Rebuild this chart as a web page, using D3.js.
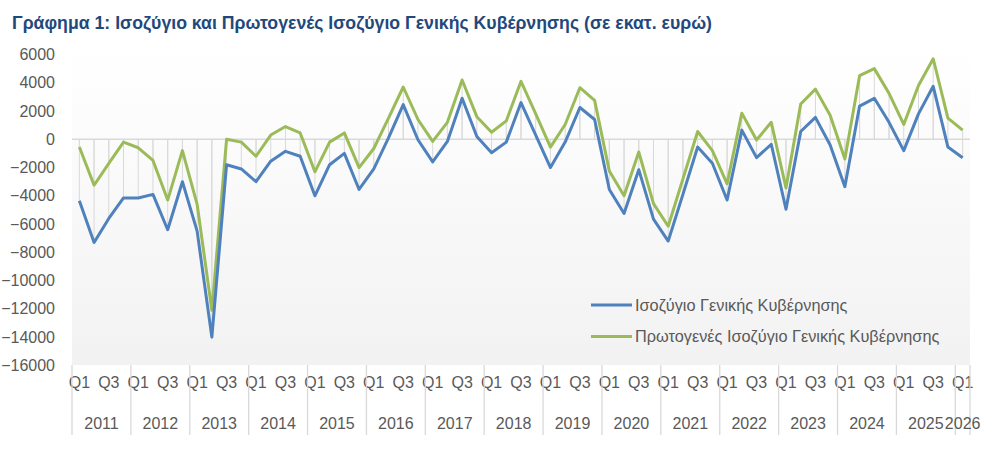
<!DOCTYPE html>
<html>
<head>
<meta charset="utf-8">
<script src="https://cdn.jsdelivr.net/npm/d3@7"></script>
<style>
  html, body { margin: 0; padding: 0; background: #ffffff; }
  svg { display: block; }
  text { font-family: "Liberation Sans", Arial, sans-serif; }
</style>
</head>
<body>
<svg id="chart" width="1002" height="457"></svg>
<script>
// ---------------- DATA ----------------
const title = "Γράφημα 1: Ισοζύγιο και Πρωτογενές Ισοζύγιο Γενικής Κυβέρνησης (σε εκατ. ευρώ)";
const years = [2011, 2012, 2013, 2014, 2015, 2016, 2017, 2018, 2019, 2020, 2021, 2022, 2023, 2024, 2025, 2026];
const quarters = ["Q1", "Q2", "Q3", "Q4"];
const shownQuarters = ["Q1", "Q3"];
const seriesNames = ["Ισοζύγιο Γενικής Κυβέρνησης", "Πρωτογενές Ισοζύγιο Γενικής Κυβέρνησης"];
const yTicks = [6000, 4000, 2000, 0, -2000, -4000, -6000, -8000, -10000, -12000, -14000, -16000];

// General government balance (million euro), quarterly 2011Q1 – 2026Q1
const balance = [
  -4350, -7300, -5600, -4150,
  -4150, -3900, -6400, -3000,
  -6500, -14000, -1800, -2100,
  -3000, -1550, -850, -1200,
  -4000, -1800, -1000, -3550,
  -2100, 100, 2450, -30,
  -1600, -150, 2900, 200,
  -950, -200, 2600, 300,
  -2000, -200, 2250, 1400,
  -3550, -5250, -2150, -5650,
  -7200, -3900, -550, -1700,
  -4300, 650, -1300, -350,
  -4950, 550, 1550, -400,
  -3350, 2350, 2900, 1200,
  -800, 1800, 3750, -550,
  -1300
];
// Primary balance (million euro)
const primary = [
  -550, -3250, -1700, -200,
  -600, -1500, -4300, -800,
  -4600, -12100, 0, -200,
  -1200, 300, 900, 450,
  -2300, -200, 450, -2000,
  -650, 1500, 3700, 1400,
  -150, 1200, 4200, 1600,
  500, 1300, 4100, 1800,
  -550, 1050, 3650, 2750,
  -2250, -4000, -900, -4550,
  -6150, -2800, 550, -800,
  -3150, 1850, -50, 1200,
  -3450, 2500, 3550, 1700,
  -1400, 4500, 5000, 3250,
  1050, 3800, 5700, 1500,
  650
];

// ---------------- BUILD ----------------
const categories = [];
years.forEach(y => quarters.forEach(q => categories.push({ year: y, q: q, key: y + "-" + q })));
const cats = categories.slice(0, balance.length);

const svg = d3.select("#chart");
const plot = { left: 72, right: 970, top: 50, bottom: 365 };

const x = d3.scaleBand().domain(cats.map(d => d.key)).range([plot.left, plot.right]).paddingInner(0).paddingOuter(0);
const y = d3.scaleLinear().domain([-16000, 6000]).range([365.4, 54.5]);

const colors = { blue: "#4f81bd", green: "#9bbb59", grid: "#d9d9d9", text: "#595959", title: "#1f497d" };

// gradient background
const defs = svg.append("defs");
const grad = defs.append("linearGradient").attr("id", "bg").attr("x1", 0).attr("y1", 0).attr("x2", 0).attr("y2", 1);
grad.append("stop").attr("offset", "0%").attr("stop-color", "#ffffff");
grad.append("stop").attr("offset", "100%").attr("stop-color", "#f2f2f2");

svg.append("rect")
  .attr("x", plot.left).attr("y", plot.top)
  .attr("width", plot.right - plot.left).attr("height", plot.bottom - plot.top)
  .attr("fill", "url(#bg)");

// title
svg.append("text")
  .attr("x", 12).attr("y", 29)
  .attr("font-size", 18).attr("font-weight", "bold")
  .attr("fill", colors.title)
  .attr("textLength", 700).attr("lengthAdjust", "spacingAndGlyphs")
  .text(title);

// y axis labels (no line)
const yAxis = d3.axisLeft(y).tickValues(yTicks).tickSize(0).tickPadding(0).tickFormat(d3.format("d"));
const gy = svg.append("g").attr("transform", `translate(${55},0)`).call(yAxis);
gy.select(".domain").remove();
gy.selectAll("text").attr("font-size", 16).attr("fill", colors.text)
  .attr("font-family", "Liberation Sans, Arial, sans-serif");

// drop lines (point to zero) for both series
const cx = d => x(d) + x.bandwidth() / 2;
[balance, primary].forEach(series => {
  svg.append("g").selectAll("line").data(series).join("line")
    .attr("x1", (d, i) => cx(cats[i].key)).attr("x2", (d, i) => cx(cats[i].key))
    .attr("y1", y(0)).attr("y2", d => y(d))
    .attr("stroke", colors.grid).attr("stroke-width", 1);
});

// zero axis line
svg.append("line")
  .attr("x1", plot.left).attr("x2", plot.right)
  .attr("y1", y(0)).attr("y2", y(0))
  .attr("stroke", colors.grid).attr("stroke-width", 1.5);

// category axis: quarter labels
const xAxisQ = d3.axisBottom(x).tickSize(0).tickPadding(0)
  .tickValues(cats.filter(d => shownQuarters.includes(d.q)).map(d => d.key))
  .tickFormat(k => k.split("-")[1]);
const gx = svg.append("g").attr("transform", `translate(0,${383})`).call(xAxisQ);
gx.select(".domain").remove();
gx.selectAll("text").attr("font-size", 16).attr("fill", colors.text).attr("dy", "0.32em")
  .attr("font-family", "Liberation Sans, Arial, sans-serif");

// year groups
const yearGroups = years.map(yr => {
  const ks = cats.filter(d => d.year === yr).map(d => d.key);
  return { year: yr, x0: x(ks[0]), x1: x(ks[ks.length - 1]) + x.bandwidth() };
}).filter(g => !isNaN(g.x0));

const bounds = [plot.left].concat(yearGroups.map(g => g.x1));
svg.append("g").selectAll("line").data(bounds).join("line")
  .attr("x1", d => d).attr("x2", d => d)
  .attr("y1", plot.bottom).attr("y2", 435)
  .attr("stroke", colors.grid).attr("stroke-width", 1.3);

svg.append("g").selectAll("text").data(yearGroups).join("text")
  .attr("x", d => (d.x0 + d.x1) / 2).attr("y", 423)
  .attr("dy", "0.35em").attr("text-anchor", "middle")
  .attr("font-size", 16).attr("fill", colors.text)
  .text(d => d.year);

// lines
const line = d3.line().x((d, i) => cx(cats[i].key)).y(d => y(d));
svg.append("path").datum(primary).attr("d", line)
  .attr("fill", "none").attr("stroke", colors.green).attr("stroke-width", 3).attr("stroke-linejoin", "round");
svg.append("path").datum(balance).attr("d", line)
  .attr("fill", "none").attr("stroke", colors.blue).attr("stroke-width", 3).attr("stroke-linejoin", "round");

// legend
const legend = svg.append("g");
const legItems = [{ name: seriesNames[0], color: colors.blue, y: 305 }, { name: seriesNames[1], color: colors.green, y: 336.5 }];
legItems.forEach(it => {
  legend.append("line").attr("x1", 591).attr("x2", 632).attr("y1", it.y).attr("y2", it.y)
    .attr("stroke", it.color).attr("stroke-width", 3);
  legend.append("text").attr("x", 635).attr("y", it.y).attr("dy", "0.35em")
    .attr("font-size", 16.3).attr("fill", colors.text).text(it.name);
});
</script>
</body>
</html>
